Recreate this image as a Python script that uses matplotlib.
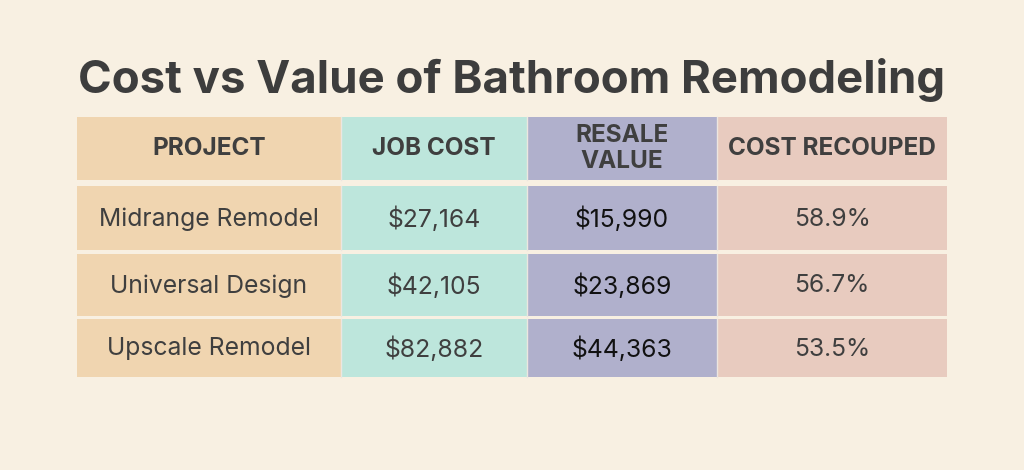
import matplotlib.pyplot as plt
from matplotlib.patches import Rectangle

plt.rcParams['font.family'] = ['Inter', 'DejaVu Sans']

title = "Cost vs Value of Bathroom Remodeling"
headers = ["PROJECT", "JOB COST", "RESALE\nVALUE", "COST RECOUPED"]
projects = ["Midrange Remodel", "Universal Design", "Upscale Remodel"]
job_cost = ["$27,164", "$42,105", "$82,882"]
resale_value = ["$15,990", "$23,869", "$44,363"]
cost_recouped = ["58.9%", "56.7%", "53.5%"]

bg = "#f8f0e2"
col_colors = ["#f0d5b0", "#bde6dc", "#b0b0cc", "#e8cbbf"]
text_colors = ["#3f3f3f", "#3f3f3f", "#111111", "#3f3f3f"]

# layout in pixels
col_edges = [77, 341, 527, 717, 947]
row_spans = [(117, 180), (186, 250), (254, 316), (319, 377)]

fig = plt.figure(figsize=(10.24, 4.7), dpi=100)
fig.patch.set_facecolor(bg)
ax = fig.add_axes([0, 0, 1, 1])
ax.set_xlim(0, 1024)
ax.set_ylim(470, 0)
ax.axis('off')

ax.text(512, 80, title, ha='center', va='center', fontsize=32.8,
        fontweight='bold', color="#3d3d3d")

columns = [projects, job_cost, resale_value, cost_recouped]
for r, (y0, y1) in enumerate(row_spans):
    for c in range(4):
        x0, x1 = col_edges[c], col_edges[c + 1]
        ax.add_patch(Rectangle((x0, y0), x1 - x0, y1 - y0,
                               facecolor=col_colors[c], edgecolor='none'))
        if c > 0:
            ax.plot([x0, x0], [y0, y1], color="#ece6e0", lw=1)
        if r == 0:
            label = headers[c]
            ax.text((x0 + x1) / 2, (y0 + y1) / 2, label, ha='center',
                    va='center', fontsize=17.5, fontweight='bold',
                    color="#3f3f3f", linespacing=1.2)
        else:
            label = columns[c][r - 1]
            ax.text((x0 + x1) / 2, (y0 + y1) / 2 + 1, label, ha='center',
                    va='center', fontsize=17.8, color=text_colors[c])

fig.savefig("out.png", dpi=100, facecolor=bg)
